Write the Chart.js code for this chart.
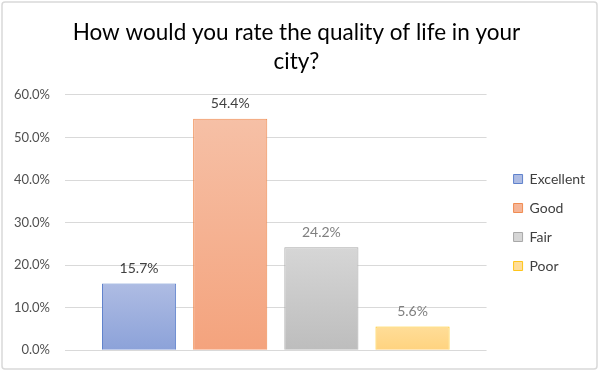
<!DOCTYPE html>
<html>
<head>
<meta charset="utf-8">
<script src="https://cdn.jsdelivr.net/npm/chart.js@4"></script>
<style>
  body { margin: 0; background: #fff; }
  #wrap { width: 600px; height: 373px; }
</style>
</head>
<body>
<div id="wrap"><canvas id="quality_chart" width="600" height="373"></canvas></div>
<script>
const titleLines = ["How would you rate the quality of life in your", "city?"];
const ratings = ["Excellent", "Good", "Fair", "Poor"];
const shares = [0.157, 0.544, 0.242, 0.056];
const yTicks = [0, 0.1, 0.2, 0.3, 0.4, 0.5, 0.6];

const topColors = ["#aebce3", "#f6c0a6", "#d6d6d6", "#ffdd98"];
const bottomColors = ["#8ca2d9", "#f4a37d", "#bdbdbd", "#ffd37f"];
const borderColors = ["#5f82cc", "#f08c52", "#a8a8a8", "#ffc51a"];
const labelColors = ["#404040", "#404040", "#7f7f7f", "#7f7f7f"];

const FONT = "Lato, 'Open Sans', sans-serif";

function barGradient(i) {
  return function (ctx) {
    const chart = ctx.chart;
    if (!chart.chartArea) return topColors[i];
    const y = chart.scales.y;
    const top = y.getPixelForValue(shares[i]);
    const bottom = y.getPixelForValue(0);
    const g = chart.ctx.createLinearGradient(0, top, 0, bottom);
    g.addColorStop(0, topColors[i]);
    g.addColorStop(1, bottomColors[i]);
    return g;
  };
}

const frame = {
  id: "frame",
  beforeDraw(chart) {
    const c = chart.ctx;
    c.save();
    c.fillStyle = "#fff";
    c.fillRect(0, 0, chart.width, chart.height);
    c.strokeStyle = "#d9d9d9";
    c.lineWidth = 1.5;
    c.beginPath();
    c.roundRect(2, 2, 595, 367, 3);
    c.stroke();
    c.restore();
  },
};

// nudge the legend to where Excel puts it
const legendShift = {
  id: "legendShift",
  afterLayout(chart) {
    const lg = chart.legend;
    lg.left += 12;
    lg.right += 12;
    lg.top += 44;
    lg.bottom += 44;
  },
};

const valueLabels = {
  id: "valueLabels",
  afterDatasetsDraw(chart) {
    const c = chart.ctx;
    c.save();
    c.font = "14px " + FONT;
    c.textAlign = "center";
    c.textBaseline = "middle";
    chart.data.datasets.forEach((ds, i) => {
      const bar = chart.getDatasetMeta(i).data[0];
      c.fillStyle = labelColors[i];
      c.fillText((ds.data[0] * 100).toFixed(1) + "%", bar.x, bar.y - 15);
    });
    c.restore();
  },
};

new Chart(document.getElementById("quality_chart"), {
  type: "bar",
  data: {
    labels: [""],
    datasets: ratings.map((name, i) => ({
      label: name,
      data: [shares[i]],
      backgroundColor: barGradient(i),
      borderColor: borderColors[i],
      borderWidth: 1,
      categoryPercentage: 0.865,
      barPercentage: 0.813,
    })),
  },
  options: {
    responsive: false,
    animation: false,
    layout: { padding: { left: 10, right: 17, top: 6, bottom: 22 } },
    scales: {
      x: { display: false },
      y: {
        min: 0,
        max: 0.6,
        afterBuildTicks(scale) {
          scale.ticks = yTicks.map((v) => ({ value: v }));
        },
        afterFit(scale) {
          scale.width = 55;
        },
        border: { display: false },
        grid: { color: "#d9d9d9", drawTicks: false },
        ticks: {
          padding: 15,
          color: "#505050",
          font: { family: FONT, size: 13 },
          callback: (v) => (v * 100).toFixed(1) + "%",
        },
      },
    },
    plugins: {
      title: {
        display: true,
        text: titleLines,
        color: "#000",
        font: { family: FONT, size: 22.5, weight: "normal", lineHeight: 1.31 },
        padding: { top: 12, bottom: 18 },
      },
      legend: {
        position: "right",
        labels: {
          boxWidth: 9,
          boxHeight: 9,
          padding: 15,
          color: "#404040",
          font: { family: FONT, size: 14 },
        },
      },
      tooltip: { enabled: false },
    },
  },
  plugins: [frame, legendShift, valueLabels],
});
</script>
</body>
</html>
